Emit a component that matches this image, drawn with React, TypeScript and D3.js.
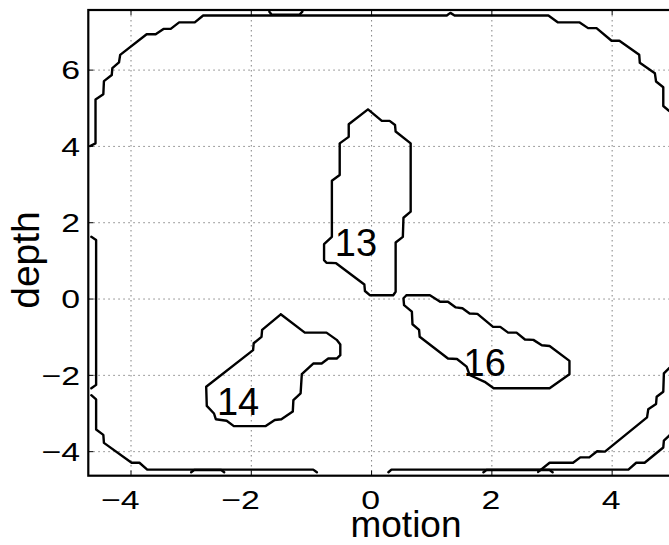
import * as d3 from "d3";

const WIDTH = 669;
const HEIGHT = 545;
const MARGIN = { top: 10, left: 88.3 };
const PLOT_W = 584; // the axis box runs just past the right edge of the picture
const PLOT_H = 465.7;

const X_DOMAIN = [-4.71, 5.0];
const Y_DOMAIN = [-4.63, 7.575];
const X_TICKS = [-4, -2, 0, 2, 4];
const Y_TICKS = [-4, -2, 0, 2, 4, 6];

// closed contours, [motion, depth]
const level13 = [
  [-0.06, 4.97], [0.17, 4.67], [0.3, 4.67], [0.39, 4.56], [0.4, 4.39], [0.65, 4.08],
  [0.65, 2.29], [0.53, 2.13], [0.52, 1.63], [0.4, 1.48], [0.4, 0.19], [0.36, 0.1],
  [-0.03, 0.1], [-0.11, 0.21], [-0.12, 0.38], [-0.59, 0.94], [-0.75, 0.95], [-0.79, 1.02],
  [-0.79, 1.44], [-0.66, 1.63], [-0.66, 3.1], [-0.53, 3.25], [-0.53, 4.08], [-0.38, 4.25],
  [-0.38, 4.58], [-0.06, 4.97],
];

const level14 = [
  [-1.51, -0.4], [-1.11, -0.88], [-0.75, -0.88], [-0.58, -1.07], [-0.52, -1.19], [-0.52, -1.47],
  [-0.58, -1.56], [-0.72, -1.56], [-0.83, -1.69], [-0.97, -1.69], [-1.16, -1.97], [-1.18, -2.47],
  [-1.3, -2.65], [-1.31, -2.95], [-1.5, -3.15], [-1.61, -3.17], [-1.76, -3.33], [-2.29, -3.33],
  [-2.41, -3.19], [-2.59, -3.15], [-2.62, -3.0], [-2.74, -2.8], [-2.75, -2.3], [-1.97, -1.34],
  [-1.96, -1.16], [-1.83, -0.99], [-1.82, -0.81], [-1.51, -0.4],
];

const level16 = [
  [0.58, 0.1], [0.97, 0.1], [1.14, -0.07], [1.27, -0.07], [1.4, -0.22], [1.51, -0.24],
  [1.63, -0.38], [1.76, -0.39], [2.02, -0.73], [2.14, -0.73], [2.27, -0.88], [2.41, -0.88],
  [2.55, -1.06], [2.69, -1.07], [2.83, -1.21], [2.96, -1.23], [3.29, -1.62], [3.29, -1.97],
  [2.96, -2.34], [2.03, -2.34], [1.88, -2.17], [1.63, -1.99], [1.58, -1.77], [1.42, -1.57],
  [1.27, -1.56], [0.8, -0.99], [0.79, -0.81], [0.68, -0.66], [0.67, -0.33], [0.54, -0.16],
  [0.53, 0.02], [0.58, 0.1],
];

// open contour pieces that run into the box edges
const outerTop = [
  [-4.68, 4.01], [-4.59, 4.08], [-4.59, 5.23], [-4.46, 5.37], [-4.45, 5.71], [-4.32, 5.87],
  [-4.31, 6.05], [-4.2, 6.2], [-4.18, 6.4], [-3.74, 6.94], [-3.59, 6.94], [-3.46, 7.08],
  [-3.34, 7.08], [-3.2, 7.25], [-2.94, 7.25], [-2.8, 7.43], [1.25, 7.43], [1.31, 7.5],
  [1.38, 7.43], [2.94, 7.43], [3.1, 7.25], [3.46, 7.25], [3.6, 7.1], [3.74, 7.1],
  [3.99, 6.77], [4.12, 6.77], [4.45, 6.4], [4.46, 6.19], [4.71, 5.92], [4.73, 5.7],
  [4.85, 5.55], [4.85, 5.06], [4.94, 4.94], [5.05, 4.8],
];
const outerRight = [
  [5.05, -1.7], [4.94, -1.82], [4.86, -1.95], [4.85, -2.43], [4.74, -2.56], [4.73, -2.75],
  [4.6, -2.89], [4.58, -3.1], [3.88, -4.0], [3.75, -3.99], [3.62, -4.15], [3.47, -4.15],
  [3.35, -4.29], [2.96, -4.29], [2.77, -4.53],
];
const outerLeft = [
  [-4.66, 1.63], [-4.58, 1.55], [-4.58, -2.25], [-4.66, -2.34],
];
const outerBottomLeft = [
  [-4.66, -2.52], [-4.58, -2.63], [-4.58, -3.42], [-4.46, -3.56], [-4.45, -3.77], [-3.99, -4.29],
  [-3.86, -4.29], [-3.73, -4.47], [-0.97, -4.47], [-0.91, -4.54],
];
const cornerBottomRight = [
  [0.28, -4.54], [0.33, -4.47], [4.27, -4.47], [4.4, -4.29], [4.54, -4.29], [4.85, -3.89],
  [4.86, -3.71], [4.94, -3.59], [5.05, -3.45],
];
const edgeBits = [
  [[-1.7, 7.53], [-1.66, 7.45], [-1.2, 7.45], [-1.15, 7.53]],
  [[-3.0, -4.54], [-2.95, -4.48], [-2.5, -4.48], [-2.45, -4.54]],
  [[1.86, -4.54], [1.91, -4.48], [2.96, -4.48], [3.01, -4.54]],
];

const CONTOUR_LABELS = [
  { text: "13", x: -0.26, y: 1.48 },
  { text: "14", x: -2.22, y: -2.69 },
  { text: "16", x: 1.88, y: -1.66 },
];

const FONT = "'Liberation Sans', Arial, Helvetica, sans-serif";

const fmt = (v: number) => (v < 0 ? "\u2212" + Math.abs(v) : String(v));

export default function App() {
  const xScale = d3.scaleLinear().domain(X_DOMAIN).range([MARGIN.left, MARGIN.left + PLOT_W]);
  const yScale = d3.scaleLinear().domain(Y_DOMAIN).range([MARGIN.top + PLOT_H, MARGIN.top]);

  const line = d3
    .line<number[]>()
    .x((d) => xScale(d[0]))
    .y((d) => yScale(d[1]));

  const paths = [level13, level14, level16, outerTop, outerRight, outerLeft, outerBottomLeft, cornerBottomRight, ...edgeBits];

  const x0 = MARGIN.left;
  const x1 = MARGIN.left + PLOT_W;
  const y0 = MARGIN.top;
  const y1 = MARGIN.top + PLOT_H;

  return (
    <svg
      width={WIDTH}
      height={HEIGHT}
      style={{ position: "absolute", left: 0, top: 0, background: "white" }}
    >
      <defs>
        <clipPath id="plot-clip">
          <rect x={x0} y={y0} width={PLOT_W} height={PLOT_H} />
        </clipPath>
      </defs>

      {/* dotted grid */}
      {X_TICKS.map((t) => (
        <line key={"gx" + t} x1={xScale(t)} x2={xScale(t)} y1={y0} y2={y1}
          stroke="#808080" strokeWidth={1} strokeDasharray="1.5 3.5" />
      ))}
      {Y_TICKS.map((t) => (
        <line key={"gy" + t} x1={x0} x2={x1} y1={yScale(t)} y2={yScale(t)}
          stroke="#808080" strokeWidth={1} strokeDasharray="1.5 3.5" />
      ))}

      {/* contours */}
      <g clipPath="url(#plot-clip)">
        {paths.map((p, i) => (
          <path key={i} d={line(p) ?? ""} fill="none" stroke="#000" strokeWidth={2.4}
            strokeLinejoin="round" strokeLinecap="round" />
        ))}
      </g>

      {/* inside ticks */}
      {X_TICKS.map((t) => (
        <g key={"tx" + t}>
          <line x1={xScale(t)} x2={xScale(t)} y1={y1} y2={y1 - 5} stroke="#000" strokeWidth={1} />
          <line x1={xScale(t)} x2={xScale(t)} y1={y0} y2={y0 + 5} stroke="#000" strokeWidth={1} />
        </g>
      ))}
      {Y_TICKS.map((t) => (
        <line key={"ty" + t} x1={x0} x2={x0 + 5} y1={yScale(t)} y2={yScale(t)} stroke="#000" strokeWidth={1} />
      ))}

      {/* axis box */}
      <rect x={x0} y={y0} width={PLOT_W} height={PLOT_H} fill="none" stroke="#000" strokeWidth={2.2} />

      {/* tick labels */}
      {X_TICKS.map((t) => (
        <text key={"lx" + t} transform={`translate(${xScale(t) + 8.5},509) scale(1.3,1)`}
          textAnchor="end" fontFamily={FONT} fontSize={26} fill="#000">
          {fmt(t)}
        </text>
      ))}
      {Y_TICKS.map((t) => (
        <text key={"ly" + t} transform={`translate(80,${yScale(t) + 9.3}) scale(1.3,1)`}
          textAnchor="end" fontFamily={FONT} fontSize={26} fill="#000">
          {fmt(t)}
        </text>
      ))}

      {/* contour labels */}
      {CONTOUR_LABELS.map((l) => (
        <text key={l.text} x={xScale(l.x)} y={yScale(l.y) + 13.6} textAnchor="middle"
          fontFamily={FONT} fontSize={38} fill="#000">
          {l.text}
        </text>
      ))}

      {/* axis titles */}
      <text x={406} y={537} textAnchor="middle" fontFamily={FONT} fontSize={37} fill="#000">
        motion
      </text>
      <text transform="translate(39,260) rotate(-90)" textAnchor="middle" fontFamily={FONT}
        fontSize={39} fill="#000">
        depth
      </text>
    </svg>
  );
}
